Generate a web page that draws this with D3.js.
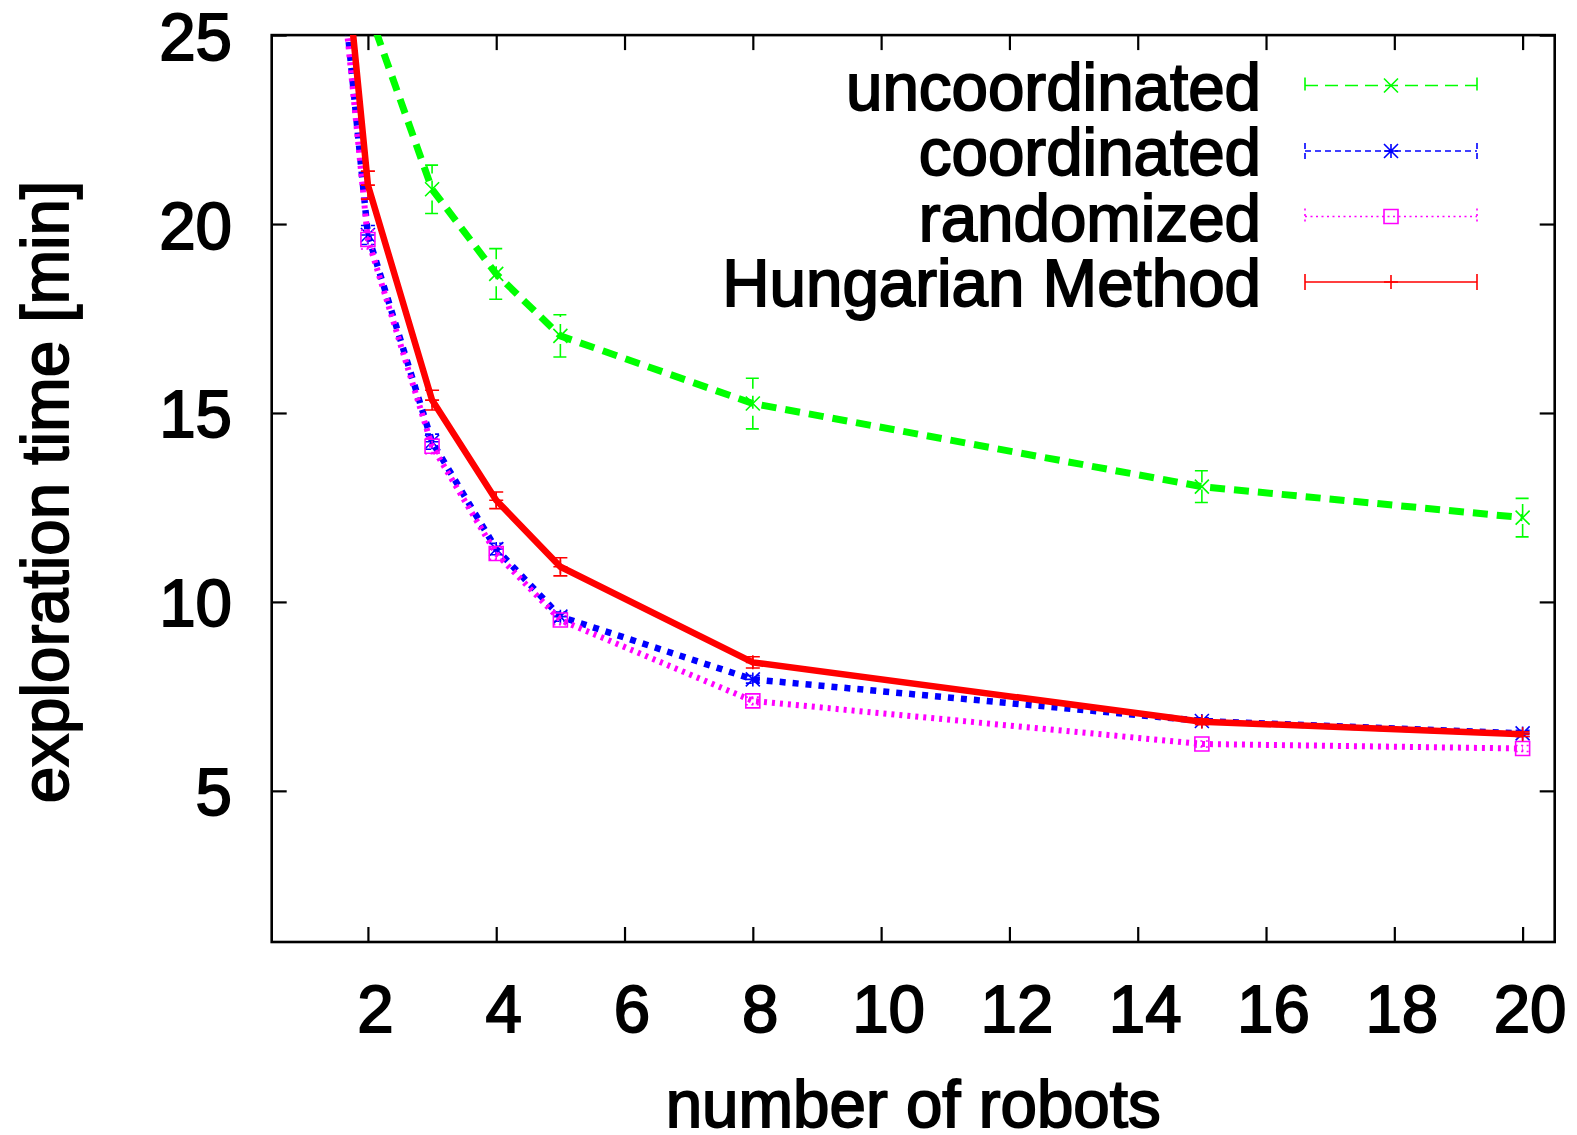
<!DOCTYPE html>
<html>
<head>
<meta charset="utf-8">
<script src="https://cdn.jsdelivr.net/npm/d3@7"></script>
<style>
  html, body { margin: 0; padding: 0; background: #fff; }
  svg { display: block; }
  text { font-family: "Liberation Sans", Arial, Helvetica, sans-serif; font-weight: normal; fill: #000; stroke: #000; stroke-width: 1.8; }
</style>
</head>
<body>
<svg id="chart" width="1577" height="1135"></svg>
<script>
// ---- data ----
const robots = [1, 2, 3, 4, 5, 8, 15, 20];
const uncoordinated = [null, 25.7, 20.92, 18.68, 17.04, 15.25, 13.05, 12.23];
const uncoordinatedErr = [null, 0.6, 0.64, 0.67, 0.56, 0.67, 0.42, 0.51];
const coordinated = [36.8, 19.71, 14.24, 11.40, 9.61, 7.95, 6.85, 6.52];
const coordinatedErr = [0.4, 0.25, 0.2, 0.15, 0.12, 0.1, 0.08, 0.08];
const randomized = [36.5, 19.59, 14.12, 11.28, 9.52, 7.38, 6.24, 6.12];
const randomizedErr = [0.4, 0.25, 0.2, 0.15, 0.12, 0.1, 0.08, 0.08];
const hungarian = [38.3, 21.03, 15.34, 12.69, 10.93, 8.40, 6.83, 6.50];
const hungarianErr = [0.5, 0.37, 0.26, 0.22, 0.24, 0.15, 0.08, 0.06];

const xTicks = [2, 4, 6, 8, 10, 12, 14, 16, 18, 20];
const yTicks = [5, 10, 15, 20, 25];
const xDomain = [0.5, 20.5];
const yDomain = [1, 25];
const xTitle = "number of robots";
const yTitle = "exploration time [min]";

const seriesNames = ["uncoordinated", "coordinated", "randomized", "Hungarian Method"];
const seriesValues = [uncoordinated, coordinated, randomized, hungarian];
const seriesErrors = [uncoordinatedErr, coordinatedErr, randomizedErr, hungarianErr];
const seriesColors = ["#00ff00", "#0000ff", "#ff00ff", "#ff0000"];
const seriesMarkers = ["x", "star", "square", "plus"];

// ---- styles ----
const lineDash = ["15,9", "6,7", "3,5", null];
const lineWidth = [7, 6.5, 6, 6.5];
const thinDash = ["13,7", "6,4", "2,3.5", null];

// ---- layout ----
const L = 271.7, R = 1554.7, T = 35.1, B = 942;
const x = d3.scaleLinear().domain(xDomain).range([L, R]);
const y = d3.scaleLinear().domain(yDomain).range([B, T]);
const SY = 1.03; // vertical glyph stretch
const FS = 65.5;

const svg = d3.select("#chart");

svg.append("defs").append("clipPath").attr("id", "plotclip")
  .append("rect").attr("x", L).attr("y", T).attr("width", R - L).attr("height", B - T);

// axes (ticks inward on all four sides)
const tickLen = 15;
const gx = svg.append("g").attr("transform", `translate(0,${B})`)
  .call(d3.axisBottom(x).tickValues(xTicks).tickSizeInner(-tickLen).tickSizeOuter(0).tickFormat(d3.format("d")));
const gxTop = svg.append("g").attr("transform", `translate(0,${T})`)
  .call(d3.axisTop(x).tickValues(xTicks).tickSizeInner(-tickLen).tickSizeOuter(0).tickFormat(""));
const gy = svg.append("g").attr("transform", `translate(${L},0)`)
  .call(d3.axisLeft(y).tickValues(yTicks).tickSizeInner(-tickLen).tickSizeOuter(0).tickFormat(d3.format("d")));
const gyR = svg.append("g").attr("transform", `translate(${R},0)`)
  .call(d3.axisRight(y).tickValues(yTicks).tickSizeInner(-tickLen).tickSizeOuter(0).tickFormat(""));

[gx, gxTop, gy, gyR].forEach(g => {
  g.select(".domain").remove();
  g.selectAll(".tick line").attr("stroke", "#000").attr("stroke-width", 2.2);
});

gx.selectAll(".tick text")
  .attr("x", 0).attr("y", 0).attr("dy", null)
  .attr("transform", `translate(7,${1032 - B}) scale(1,${SY})`)
  .attr("font-size", FS).attr("text-anchor", "middle")
  .attr("font-family", null).attr("fill", "#000");
gy.selectAll(".tick text")
  .attr("x", 0).attr("y", 0).attr("dy", null)
  .attr("transform", `translate(${232 - L},24) scale(1,${SY})`)
  .attr("font-size", FS).attr("text-anchor", "end")
  .attr("font-family", null).attr("fill", "#000");

// frame
svg.append("rect").attr("x", L).attr("y", T).attr("width", R - L).attr("height", B - T)
  .attr("fill", "none").attr("stroke", "#000").attr("stroke-width", 2.6);

// axis titles
svg.append("text")
  .attr("transform", `translate(${(L + R) / 2},1127) scale(1,${SY})`)
  .attr("text-anchor", "middle").attr("font-size", FS).text(xTitle);
svg.append("text")
  .attr("transform", `translate(68,492) rotate(-90) scale(1,${SY})`)
  .attr("text-anchor", "middle").attr("font-size", FS).text(yTitle);

// marker drawing
function marker(g, type, cx, cy, color, s) {
  const p = d3.path();
  if (type === "x" || type === "star") {
    p.moveTo(cx - s, cy - s); p.lineTo(cx + s, cy + s);
    p.moveTo(cx - s, cy + s); p.lineTo(cx + s, cy - s);
  }
  if (type === "plus" || type === "star") {
    p.moveTo(cx - s, cy); p.lineTo(cx + s, cy);
    p.moveTo(cx, cy - s); p.lineTo(cx, cy + s);
  }
  if (type === "square") {
    p.rect(cx - s, cy - s, 2 * s, 2 * s);
  }
  g.append("path").attr("d", p.toString()).attr("fill", "none")
    .attr("stroke", color).attr("stroke-width", 1.6);
}

const plot = svg.append("g").attr("clip-path", "url(#plotclip)");

seriesValues.forEach((vals, si) => {
  const color = seriesColors[si];
  const pts = robots.map((r, i) => ({ r, v: vals[i], e: seriesErrors[si][i] }))
    .filter(d => d.v !== null);
  const g = plot.append("g");
  // error bars
  pts.forEach(d => {
    const eb = d3.path();
    const cx = x(d.r), y0 = y(d.v - d.e), y1 = y(d.v + d.e), c = 7;
    eb.moveTo(cx, y0); eb.lineTo(cx, y1);
    eb.moveTo(cx - c, y0); eb.lineTo(cx + c, y0);
    eb.moveTo(cx - c, y1); eb.lineTo(cx + c, y1);
    g.append("path").attr("d", eb.toString()).attr("fill", "none")
      .attr("stroke", color).attr("stroke-width", 1.6)
      .attr("stroke-dasharray", thinDash[si]);
  });
  // line
  const line = d3.line().x(d => x(d.r)).y(d => y(d.v));
  g.append("path").datum(pts).attr("d", line).attr("fill", "none")
    .attr("stroke", color).attr("stroke-width", lineWidth[si])
    .attr("stroke-dasharray", lineDash[si]).attr("stroke-linejoin", "miter");
  // markers
  pts.forEach(d => marker(g, seriesMarkers[si], x(d.r), y(d.v), color, 7));
});

// legend
const legRowY = [85.5, 151, 216.5, 282];
const legTextX = 1261, legX0 = 1305, legX1 = 1477, legMid = 1391;
seriesNames.forEach((name, si) => {
  const ly = legRowY[si];
  const color = seriesColors[si];
  svg.append("text")
    .attr("transform", `translate(${legTextX},${ly + 24}) scale(1,${SY})`)
    .attr("text-anchor", "end").attr("font-size", FS).text(name);
  const p = d3.path();
  p.moveTo(legX0, ly); p.lineTo(legX1, ly);
  p.moveTo(legX0, ly - 8); p.lineTo(legX0, ly + 8);
  p.moveTo(legX1, ly - 8); p.lineTo(legX1, ly + 8);
  svg.append("path").attr("d", p.toString()).attr("fill", "none")
    .attr("stroke", color).attr("stroke-width", 1.6)
    .attr("stroke-dasharray", thinDash[si]);
  marker(svg, seriesMarkers[si], legMid, ly, color, 7);
});
</script>
</body>
</html>
